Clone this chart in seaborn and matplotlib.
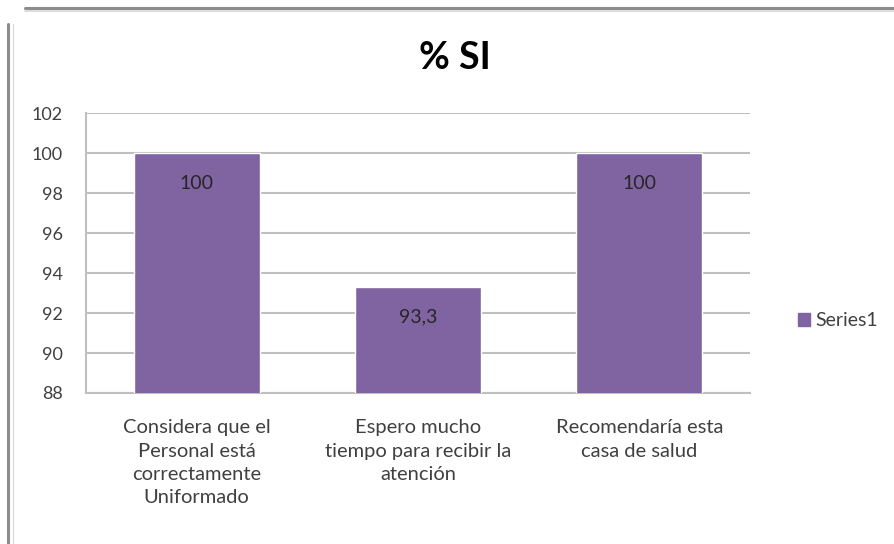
import matplotlib
matplotlib.use("Agg")
import matplotlib.pyplot as plt
from matplotlib.lines import Line2D
from matplotlib.patches import Patch
import seaborn as sns
import pandas as pd

categories = [
    "Considera que el\nPersonal está\ncorrectamente\nUniformado",
    "Espero mucho\ntiempo para recibir la\natención",
    "Recomendaría esta\ncasa de salud",
]
values = [100, 93.3, 100]
value_labels = ["100", "93,3", "100"]
yticks = [88, 90, 92, 94, 96, 98, 100, 102]
series_name = "Series1"
title = "% SI"

sns.set_theme(style="white")
plt.rcParams["font.family"] = ["Lato", "DejaVu Sans"]

bar_color = "#8064A2"
grid_color = "#BFBFBF"
text_color = "#404040"

df = pd.DataFrame({"categoria": categories, "valor": values})

fig = plt.figure(figsize=(8.95, 5.44), dpi=100)
ax = fig.add_axes([0.0961, 0.2776, 0.7419, 0.5144])

sns.barplot(data=df, x="categoria", y="valor", color=bar_color,
            width=0.57, saturation=1, ax=ax, zorder=3)

ax.set_ylim(88, 102)
ax.set_yticks(yticks)
ax.set_yticklabels([str(t) for t in yticks], fontsize=13, color=text_color)
ax.set_xlim(-0.5, len(categories) - 0.5)
ax.set_xticks(range(len(categories)))
ax.set_xticklabels(categories, fontsize=14.5, color=text_color,
                   linespacing=1.45)
ax.set_xlabel("")
ax.set_ylabel("")
ax.tick_params(axis="x", length=0, pad=19)
ax.tick_params(axis="y", length=0, pad=16.5)
for lbl in ax.get_yticklabels():
    lbl.set_horizontalalignment("right")

ax.yaxis.grid(True, color=grid_color, linewidth=1.5, zorder=0)
ax.set_axisbelow(True)
for side in ["top", "right"]:
    ax.spines[side].set_visible(False)
for side in ["left", "bottom"]:
    ax.spines[side].set_color(grid_color)
    ax.spines[side].set_linewidth(1.5)

for patch, txt in zip(ax.patches, value_labels):
    cx = patch.get_x() + patch.get_width() / 2
    top = patch.get_height() + patch.get_y()
    ax.annotate(txt, xy=(cx, top), xytext=(0, -21.6), textcoords="offset points",
                ha="center", va="center", fontsize=14, color="#262626", zorder=5)

fig.text(0.508, 0.893, title, ha="center", va="center",
         fontsize=27, fontweight="bold", color="black")

handle = Patch(facecolor=bar_color, edgecolor=bar_color)
fig.legend([handle], [series_name], loc="center left",
           bbox_to_anchor=(0.872, 0.41), frameon=False, fontsize=14,
           handlelength=0.6, handleheight=0.6, handletextpad=0.3,
           labelcolor=text_color)

# chart frame along the top and left edges
fig.add_artist(Line2D([0.028, 1.0], [0.985, 0.985], transform=fig.transFigure,
                      color="#8C8C8C", linewidth=2.2))
fig.add_artist(Line2D([0.028, 1.0], [0.979, 0.979], transform=fig.transFigure,
                      color="#DCDCDC", linewidth=1.5))
fig.add_artist(Line2D([0.009, 0.009], [0.0, 0.955], transform=fig.transFigure,
                      color="#8C8C8C", linewidth=2.2))
fig.add_artist(Line2D([0.015, 0.015], [0.0, 0.955], transform=fig.transFigure,
                      color="#DCDCDC", linewidth=1.0))

fig.savefig("out.png", dpi=100)
